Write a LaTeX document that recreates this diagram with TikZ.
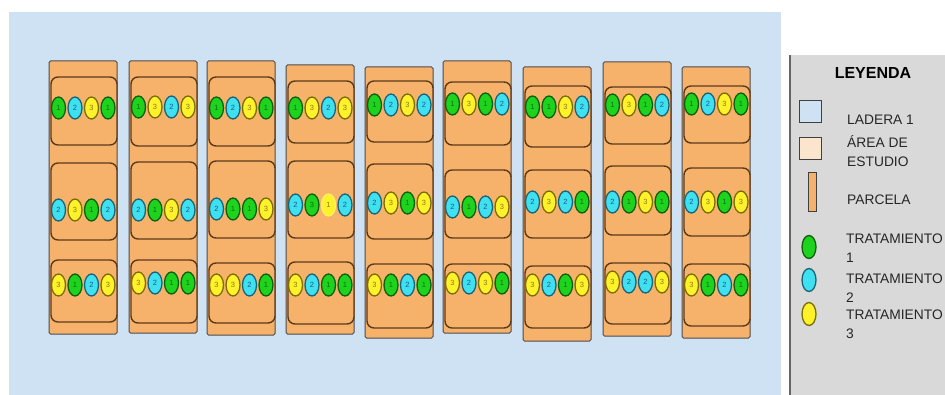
\documentclass[tikz,border=0pt]{standalone}
\usepackage{fontspec}
\setmainfont{Liberation Sans}
\usetikzlibrary{shapes.geometric}

\definecolor{ladera}{HTML}{CFE2F3}
\definecolor{area}{HTML}{FCE5CD}
\definecolor{naranja}{HTML}{F6B26B}
\definecolor{borde}{HTML}{5B3A1C}
\definecolor{leyenda}{HTML}{D9D9D9}
\definecolor{trat1}{HTML}{1ED31E}
\definecolor{trat1dark}{HTML}{0E5E0E}
\definecolor{trat1txt}{HTML}{0E6E0E}
\definecolor{trat2}{HTML}{3FE0F0}
\definecolor{trat2dark}{HTML}{1B6478}
\definecolor{trat2txt}{HTML}{1B5C8A}
\definecolor{trat3}{HTML}{FFF22A}
\definecolor{trat3dark}{HTML}{7A6E00}
\definecolor{trat3txt}{HTML}{8A7C20}
\definecolor{trat4}{HTML}{FFF22A}
\definecolor{trat4dark}{HTML}{FFF45A}
\definecolor{trat4txt}{HTML}{8A7C20}

\tikzset{
  parcelabox/.style={draw=black!70,fill=naranja,line width=1pt,rounded corners=1.5pt},
  bloquebox/.style={draw=borde,fill=naranja,line width=1.4pt,rounded corners=7pt},
  trat/.style={ellipse,draw=trat#1dark,fill=trat#1,text=trat#1txt,line width=1.3pt,
    minimum width=14pt,minimum height=22pt,inner sep=0pt,font=\fontsize{7.5}{7.5}\selectfont},
  leybox/.style={draw=black!75,line width=1pt,inner sep=0pt},
  leytexto/.style={anchor=base west,inner sep=0pt,align=left,
    font=\fontsize{13.8}{19}\selectfont,text=black!85}
}

\begin{document}
\begin{tikzpicture}[x=1pt,y=-1pt]
    \useasboundingbox (0,0) rectangle (945,395);
    \clip (0,0) rectangle (945,395);
    \fill[white] (0,0) rectangle (945,395);
    \fill[ladera] (9,12) rectangle (781,396);

    % parcelas con sus tres bloques
    \foreach \i/\x/\yt/\yb/\at/\ab/\bt/\bb/\ct/\cb/\ra/\rb/\rc/\sa/\sb/\sc in {
        1/49/61/334/77/145/163/240/260/322/108/210/285/{1/1,2/2,3/3,1/1}/{2/2,3/3,1/1,2/2}/{3/3,1/1,2/2,3/3},
        2/129/61/333/77/146/162/239/260/323/107/210/283/{1/1,3/3,2/2,3/3}/{2/2,1/1,3/3,2/2}/{3/3,2/2,1/1,1/1},
        3/207/61/335/77/146/161/238/263/323/108/209/285/{1/1,2/2,3/3,1/1}/{2/2,1/1,1/1,3/3}/{3/3,3/3,2/2,1/1},
        4/286/65/334/81/143/161/238/262/324/108/205/285/{1/1,3/3,2/2,3/3}/{2/2,1/3,4/1,2/2}/{3/3,2/2,1/1,1/1},
        5/365/67/338/81/142/164/239/264/328/105/203/285/{1/1,2/2,3/3,2/2}/{2/2,3/3,1/1,3/3}/{3/3,1/1,2/2,1/1},
        6/443/61/333/82/145/170/238/264/328/104/207/283/{1/1,3/3,1/1,2/2}/{2/2,1/1,2/2,3/3}/{3/3,2/2,3/3,1/1},
        7/523/67/341/86/147/170/238/266/328/107/202/285/{1/1,1/1,3/3,2/2}/{2/2,3/3,2/2,1/1}/{3/3,2/2,1/1,3/3},
        8/603/62/336/87/144/166/235/263/324/105/202/282/{1/1,3/3,1/1,2/2}/{2/2,1/1,3/3,1/1}/{3/3,2/2,2/2,3/3},
        9/682/67/338/86/143/168/236/264/326/104/202/285/{1/1,2/2,3/3,1/1}/{2/2,3/3,1/1,3/3}/{3/3,1/1,2/2,1/1}}{
        \draw[parcelabox] (\x,\yt) rectangle (\x+68,\yb);
        \draw[bloquebox] (\x+2,\at) rectangle (\x+68,\ab);
        \draw[bloquebox] (\x+2,\bt) rectangle (\x+68,\bb);
        \draw[bloquebox] (\x+2,\ct) rectangle (\x+68,\cb);
        \foreach \t/\n [count=\k] in \sa
            \node[trat=\t] (p\i a\k) at (\x+9.5+16.5*\k-16.5,\ra) {\n};
        \foreach \t/\n [count=\k] in \sb
            \node[trat=\t] (p\i b\k) at (\x+9.5+16.5*\k-16.5,\rb) {\n};
        \foreach \t/\n [count=\k] in \sc
            \node[trat=\t] (p\i c\k) at (\x+9.5+16.5*\k-16.5,\rc) {\n};
    }

    % leyenda
    \fill[leyenda] (790,55) rectangle (946,396);
    \draw[line width=1.3pt,black!60] (790,55) -- (790,396);
    \node[anchor=base,inner sep=0pt,font=\bfseries\fontsize{16}{16}\selectfont] (titulo) at (873,79) {LEYENDA};

    \node[leybox,fill=ladera,minimum size=22pt] (leyLadera) at (810,112) {};
    \node[leybox,fill=area,minimum size=22pt] (leyArea) at (810,148.5) {};
    \node[leybox,fill=naranja,minimum width=8pt,minimum height=39pt] (leyParcela) at (812,192.5) {};
    \node[trat=1,minimum height=23pt] (leyT1) at (809,247) {};
    \node[trat=2,minimum height=23pt] (leyT2) at (809,280) {};
    \node[trat=3,minimum height=23pt] (leyT3) at (809,314) {};

    % la linea base de un texto de dos lineas es la de la ultima
    \node[leytexto] (txtLadera) at (847,125) {LADERA 1};
    \node[leytexto] (txtArea) at (847,167) {ÁREA DE\\ESTUDIO};
    \node[leytexto] (txtParcela) at (847,205) {PARCELA};
    \node[leytexto] (txtT1) at (846,263) {TRATAMIENTO\\1};
    \node[leytexto] (txtT2) at (846,302) {TRATAMIENTO\\2};
    \node[leytexto] (txtT3) at (846,338) {TRATAMIENTO\\3};
\end{tikzpicture}
\end{document}
